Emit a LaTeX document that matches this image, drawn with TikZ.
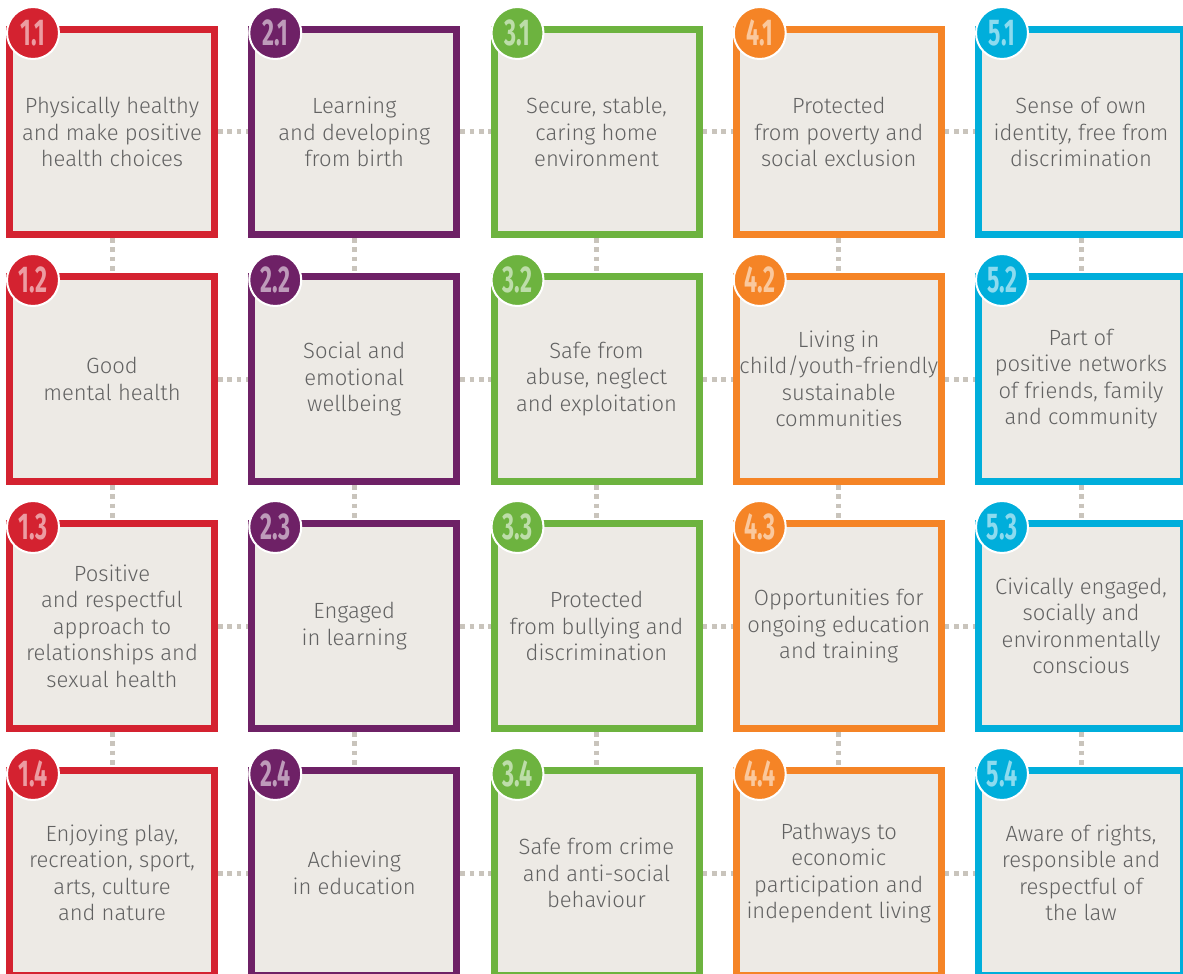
\documentclass[tikz,border=0pt]{standalone}
\usepackage{fontspec}
\setmainfont{Fira Sans Light}
\newfontfamily\badgefont{Fira Sans}
\definecolor{cred}{HTML}{D42230}
\definecolor{cpur}{HTML}{6E2166}
\definecolor{cgrn}{HTML}{6DB33F}
\definecolor{corg}{HTML}{F58426}
\definecolor{ccya}{HTML}{00AEDB}
\definecolor{boxfill}{HTML}{EDEAE5}
\definecolor{txt}{HTML}{626262}
\definecolor{dots}{HTML}{C9C4BC}
\pgfdeclarelayer{bg}
\pgfsetlayers{bg,main}
\begin{document}
\begin{tikzpicture}[x=0.75pt,y=-0.75pt,
  gbox/.style={draw=#1, line width=5.25pt, fill=boxfill, minimum width=153.75pt, minimum height=153.75pt, inner sep=0pt, text=txt, font=\fontsize{16.5}{19.9}\selectfont, align=center},
  badge/.style={circle, fill=#1, draw=white, line width=1.5pt, minimum size=39pt, inner sep=0pt, text=#1!45!white, font=\badgefont\bfseries\fontsize{28}{28}\selectfont},
  link/.style={draw=dots, line width=3.75pt, dash pattern=on 3.5pt off 3.5pt}]
\useasboundingbox (0,0) rectangle (1183,974);
\foreach \c/\r/\col/\txt in {
 1/1/cred/{Physically healthy\\and make positive\\health choices},
 2/1/cpur/{Learning\\and developing\\from birth},
 3/1/cgrn/{Secure, stable,\\caring home\\environment},
 4/1/corg/{Protected\\from poverty and\\social exclusion},
 5/1/ccya/{Sense of own\\identity, free from\\discrimination},
 1/2/cred/{Good\\mental health},
 2/2/cpur/{Social and\\emotional\\wellbeing},
 3/2/cgrn/{Safe from\\abuse, neglect\\and exploitation},
 4/2/corg/{Living in\\child/youth-friendly\\sustainable\\communities},
 5/2/ccya/{Part of\\positive networks\\of friends, family\\and community},
 1/3/cred/{Positive\\and respectful\\approach to\\relationships and\\sexual health},
 2/3/cpur/{Engaged\\in learning},
 3/3/cgrn/{Protected\\from bullying and\\discrimination},
 4/3/corg/{Opportunities for\\ongoing education\\and training},
 5/3/ccya/{Civically engaged,\\socially and\\environmentally\\conscious},
 1/4/cred/{Enjoying play,\\recreation, sport,\\arts, culture\\and nature},
 2/4/cpur/{Achieving\\in education},
 3/4/cgrn/{Safe from crime\\and anti-social\\behaviour},
 4/4/corg/{Pathways to\\economic\\participation and\\independent living},
 5/4/ccya/{Aware of rights,\\responsible and\\respectful of\\the law}}{
  \pgfmathsetmacro\x{112+242.25*(\c-1)}
  \pgfmathsetmacro\y{132+247*(\r-1)}
  \node[gbox=\col] (b\c\r) at (\x,\y) {\txt};
  \node[badge=\col] (n\c\r) at (\x-79,\y-99) {\scalebox{0.62}[1]{\c.\r}};
}
\begin{pgfonlayer}{bg}
\foreach \r in {1,...,4}{
  \foreach \c in {1,...,4}{
    \pgfmathtruncatemacro\d{\c+1}
    \draw[link] (b\c\r) -- (b\d\r);
  }
}
\foreach \c in {1,...,5}{
  \foreach \r in {1,...,3}{
    \pgfmathtruncatemacro\s{\r+1}
    \draw[link] (b\c\r) -- (b\c\s);
  }
}
\end{pgfonlayer}
\end{tikzpicture}
\end{document}
